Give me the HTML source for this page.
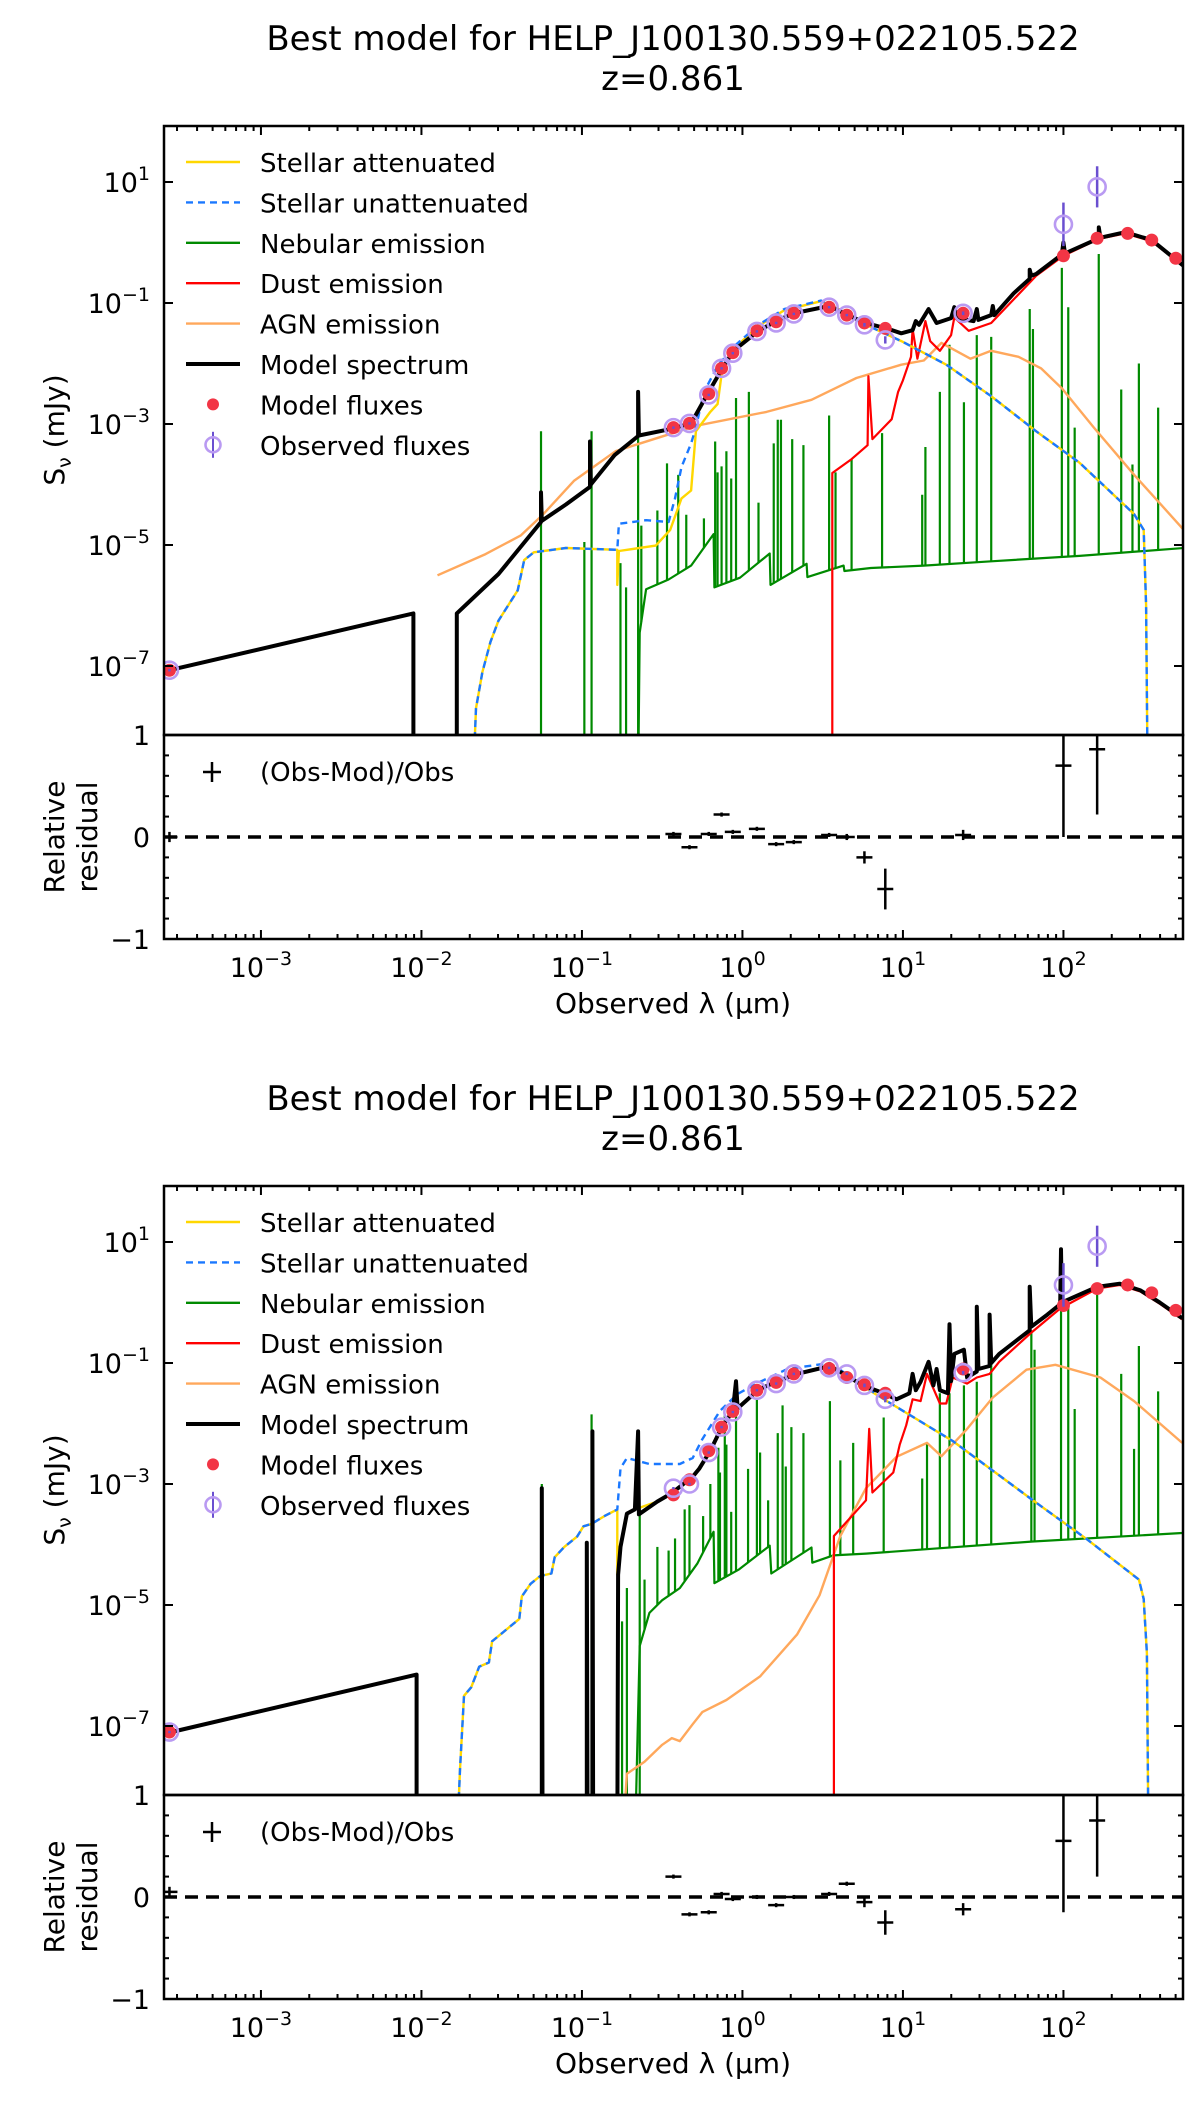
<!DOCTYPE html>
<html><head><meta charset="utf-8"><title>SED best models</title>
<style>html,body{margin:0;padding:0;background:#fff}svg{display:block}text{font-family:"DejaVu Sans","Liberation Sans",sans-serif}</style>
</head><body>
<svg id="fig" width="1200" height="2101" viewBox="0 0 1200 2101" xmlns="http://www.w3.org/2000/svg"></svg>
<script>
// ===== shared flux band wavelengths (log10 micron) =====
const fluxLogLam = [-3.57,-0.43,-0.33,-0.21,-0.13,-0.06,0.09,0.21,0.32,0.54,0.65,0.76,0.89,1.375,2.0,2.21,2.4,2.55,2.7];
const xTickExps = [-3,-2,-1,0,1,2];
const yTickExps = [1,-1,-3,-5,-7];
const residTicks = [1,0,-1];

// ===== TOP FIGURE (log10 mJy) =====
const topModel = [[-3.57,-7.07],[-2.05,-6.13],[-2.05,-9],[-1.78,-9],[-1.78,-6.13],[-1.52,-5.48],[-1.255,-4.62],[-1.255,-4.13],[-1.25,-4.6],[-1.10,-4.33],[-0.95,-4.04],[-0.95,-3.29],[-0.945,-4.0],[-0.795,-3.51],[-0.65,-3.2],[-0.65,-2.47],[-0.645,-3.19],[-0.46,-3.09],[-0.32,-2.99],[-0.28,-2.80],[-0.21,-2.47],[-0.125,-2.08],[-0.056,-1.79],[0.1,-1.46],[0.21,-1.30],[0.32,-1.17],[0.54,-1.05],[0.655,-1.20],[0.77,-1.33],[0.91,-1.43],[0.99,-1.50],[1.06,-1.45],[1.08,-1.30],[1.10,-1.36],[1.16,-1.10],[1.21,-1.33],[1.30,-1.25],[1.32,-1.07],[1.34,-1.25],[1.44,-1.30],[1.46,-1.10],[1.47,-1.28],[1.55,-1.20],[1.56,-1.05],[1.57,-1.2],[1.69,-0.84],[1.79,-0.6],[1.79,-0.45],[1.80,-0.55],[1.83,-0.52],[1.99,-0.2],[2.0,0.0],[2.01,-0.18],[2.22,0.07],[2.22,0.25],[2.23,0.08],[2.385,0.17],[2.55,0.04],[2.75,-0.39]];
const topStellarUnatt = [[-1.68,-9],[-1.66,-7.7],[-1.62,-7.1],[-1.57,-6.6],[-1.52,-6.25],[-1.40,-5.75],[-1.36,-5.25],[-1.30,-5.12],[-1.10,-5.05],[-0.78,-5.08],[-0.77,-4.65],[-0.6,-4.59],[-0.46,-4.62],[-0.42,-4.23],[-0.38,-3.71],[-0.32,-3.32],[-0.29,-3.06],[-0.24,-2.47],[-0.15,-2.02],[-0.04,-1.69],[0.1,-1.36],[0.26,-1.10],[0.49,-0.96],[0.6,-1.10],[0.77,-1.36],[0.99,-1.63],[1.27,-2.02],[1.55,-2.54],[1.83,-3.12],[2.1,-3.64],[2.44,-4.49],[2.5,-4.75],[2.515,-6],[2.525,-9]];
const topStellarAtt = [[-1.68,-9],[-1.66,-7.7],[-1.62,-7.1],[-1.57,-6.6],[-1.52,-6.25],[-1.40,-5.75],[-1.36,-5.25],[-1.30,-5.12],[-1.10,-5.05],[-0.78,-5.08],[-0.78,-5.66],[-0.77,-5.1],[-0.54,-5.01],[-0.45,-4.75],[-0.38,-4.23],[-0.32,-4.1],[-0.29,-3.12],[-0.2,-2.80],[-0.155,-2.67],[-0.125,-2.08],[-0.04,-1.72],[0.1,-1.38],[0.26,-1.12],[0.49,-0.97],[0.6,-1.10],[0.77,-1.36],[0.99,-1.63],[1.27,-2.02],[1.55,-2.54],[1.83,-3.12],[2.1,-3.64],[2.44,-4.49],[2.5,-4.75],[2.515,-6],[2.525,-9]];
const topDust = [[0.56,-9],[0.56,-3.81],[0.68,-3.58],[0.78,-3.35],[0.785,-2.21],[0.81,-3.25],[0.93,-2.92],[0.97,-2.47],[1.0,-2.28],[1.05,-1.89],[1.06,-1.43],[1.09,-1.92],[1.14,-1.30],[1.17,-1.63],[1.23,-1.79],[1.30,-1.53],[1.32,-1.24],[1.41,-1.46],[1.55,-1.33],[1.69,-0.94],[1.83,-0.55],[2.0,-0.22],[2.22,0.06],[2.385,0.15],[2.55,0.02],[2.75,-0.4]];
const topAGN = [[-1.9,-5.5],[-1.6,-5.15],[-1.38,-4.84],[-1.24,-4.49],[-1.05,-3.94],[-0.79,-3.45],[-0.29,-3.03],[0.15,-2.80],[0.43,-2.60],[0.71,-2.24],[0.99,-2.02],[1.13,-1.95],[1.24,-1.66],[1.42,-1.92],[1.55,-1.79],[1.72,-1.89],[1.86,-2.08],[1.99,-2.41],[2.19,-3.06],[2.44,-3.84],[2.75,-4.75]];
const topNebCont = [[-0.65,-9],[-0.64,-6.45],[-0.6,-5.73],[-0.46,-5.57],[-0.32,-5.34],[-0.18,-4.82],[-0.175,-5.70],[-0.015,-5.54],[0.17,-5.14],[0.175,-5.66],[0.40,-5.31],[0.405,-5.53],[0.63,-5.34],[0.635,-5.43],[0.8,-5.38],[1.13,-5.34],[1.55,-5.27],[2.1,-5.18],[2.75,-5.05]];
const topNebIsolated = [[-1.255,-3.12],[-0.985,-4.95],[-0.94,-3.12],[-0.76,-5.3],[-0.725,-5.7],[-0.65,-3.19]];
const topNebLines = [[-0.63,-4.68],[-0.53,-4.43],[-0.47,-3.65],[-0.40,-3.84],[-0.35,-4.5],[-0.24,-4.56],[-0.17,-3.29],[-0.155,-3.8],[-0.13,-3.7],[-0.10,-3.45],[-0.07,-3.9],[-0.04,-2.57],[0.04,-2.47],[0.1,-4.3],[0.195,-3.32],[0.22,-2.93],[0.24,-2.93],[0.31,-3.25],[0.38,-3.35],[0.54,-2.86],[0.58,-3.8],[0.68,-3.58],[0.87,-3.15],[1.12,-4.17],[1.14,-3.38],[1.23,-2.47],[1.29,-1.69],[1.38,-2.64],[1.46,-1.53],[1.55,-1.56],[1.79,-1.10],[1.81,-1.43],[1.99,-0.42],[2.03,-1.07],[2.07,-3.06],[2.22,-0.19],[2.36,-2.43],[2.43,-3.67],[2.47,-2.0],[2.59,-2.73]];
const topModelFlux = [-7.07,-3.06,-2.99,-2.5,-2.08,-1.82,-1.46,-1.31,-1.17,-1.07,-1.20,-1.33,-1.42,-1.17,-0.22,0.07,0.15,0.04,-0.26];
const topObsFlux = [-7.07,-3.06,-2.99,-2.52,-2.08,-1.83,-1.47,-1.33,-1.18,-1.07,-1.20,-1.36,-1.61,-1.17,0.30,0.92];
const topObsErr = [0.02,0.02,0.02,0.02,0.02,0.02,0.02,0.02,0.02,0.02,0.02,0.03,0.06,0.03,0.36,0.34];
const topResid = [0.0,0.03,-0.1,0.03,0.22,0.05,0.08,-0.07,-0.05,0.02,0.0,-0.2,-0.51,0.02,0.7,0.86];
const topResidErr = [0.05,0.02,0.02,0.02,0.02,0.02,0.02,0.02,0.02,0.02,0.03,0.06,0.2,0.05,0.7,0.64];

// ===== BOTTOM FIGURE =====
const botModel = [[-3.556,-7.1],[-2.03,-6.15],[-2.03,-9],[-1.25,-9],[-1.25,-3.07],[-1.245,-9],[-0.97,-9],[-0.97,-3.97],[-0.965,-9],[-0.935,-9],[-0.935,-2.13],[-0.93,-9],[-0.78,-9],[-0.775,-4.5],[-0.76,-4.04],[-0.72,-3.49],[-0.67,-3.42],[-0.65,-2.13],[-0.645,-3.5],[-0.53,-3.29],[-0.44,-3.15],[-0.31,-2.88],[-0.27,-2.75],[-0.2,-2.45],[-0.125,-2.04],[-0.06,-1.80],[-0.04,-1.3],[-0.03,-1.75],[0.1,-1.44],[0.21,-1.31],[0.34,-1.18],[0.545,-1.05],[0.65,-1.21],[0.75,-1.37],[0.88,-1.50],[0.96,-1.60],[1.04,-1.50],[1.06,-1.18],[1.08,-1.45],[1.11,-1.31],[1.16,-0.98],[1.19,-1.37],[1.21,-1.1],[1.23,-1.45],[1.28,-1.50],[1.29,-0.36],[1.30,-1.3],[1.32,-0.85],[1.38,-0.78],[1.40,-1.24],[1.46,-1.14],[1.46,-0.07],[1.47,-1.1],[1.54,-1.05],[1.54,-0.2],[1.55,-1.0],[1.6,-0.85],[1.79,-0.46],[1.79,0.26],[1.80,-0.4],[1.9,-0.2],[1.98,-0.03],[1.985,0.88],[1.99,0.0],[2.21,0.26],[2.35,0.31],[2.48,0.20],[2.6,0.0],[2.74,-0.26]];
const botStellarUnatt = [[-1.78,-9],[-1.76,-7.72],[-1.735,-6.5],[-1.69,-6.36],[-1.64,-6.02],[-1.58,-5.95],[-1.56,-5.6],[-1.5,-5.47],[-1.39,-5.23],[-1.375,-4.86],[-1.32,-4.65],[-1.26,-4.52],[-1.19,-4.48],[-1.17,-4.21],[-1.11,-4.04],[-1.03,-3.87],[-0.99,-3.70],[-0.94,-3.66],[-0.86,-3.53],[-0.78,-3.42],[-0.76,-2.74],[-0.72,-2.57],[-0.58,-2.67],[-0.39,-2.67],[-0.31,-2.57],[-0.25,-2.26],[-0.14,-1.79],[-0.03,-1.51],[0.11,-1.31],[0.28,-1.10],[0.545,-1.0],[0.9,-1.63],[1.31,-2.29],[1.81,-3.27],[2.15,-3.92],[2.47,-4.58],[2.5,-4.9],[2.52,-5.8],[2.53,-9]];
const botStellarAtt = [[-1.78,-9],[-1.76,-7.72],[-1.735,-6.5],[-1.69,-6.36],[-1.64,-6.02],[-1.58,-5.95],[-1.56,-5.6],[-1.5,-5.47],[-1.39,-5.23],[-1.375,-4.86],[-1.32,-4.65],[-1.26,-4.52],[-1.19,-4.48],[-1.17,-4.21],[-1.11,-4.04],[-1.03,-3.87],[-0.99,-3.70],[-0.94,-3.66],[-0.86,-3.53],[-0.78,-3.42],[-0.78,-4.5],[-0.76,-4.04],[-0.72,-3.49],[-0.67,-3.42],[-0.53,-3.29],[-0.44,-3.15],[-0.31,-2.88],[-0.27,-2.75],[-0.2,-2.45],[-0.125,-2.04],[-0.06,-1.80],[0.1,-1.44],[0.21,-1.31],[0.34,-1.18],[0.545,-1.05],[0.9,-1.63],[1.31,-2.29],[1.81,-3.27],[2.15,-3.92],[2.47,-4.58],[2.5,-4.9],[2.52,-5.8],[2.53,-9]];
const botDust = [[0.57,-9],[0.57,-3.86],[0.77,-3.27],[0.79,-2.09],[0.81,-3.14],[0.94,-2.81],[0.98,-2.35],[1.02,-2.03],[1.06,-1.6],[1.11,-1.63],[1.15,-1.18],[1.23,-1.67],[1.27,-1.67],[1.31,-1.24],[1.40,-1.34],[1.46,-1.24],[1.54,-1.18],[1.6,-0.98],[1.79,-0.52],[1.98,-0.10],[2.21,0.23],[2.35,0.29],[2.48,0.18],[2.6,-0.02],[2.74,-0.28]];
const botAGN = [[-0.75,-9],[-0.72,-7.79],[-0.61,-7.59],[-0.5,-7.31],[-0.44,-7.2],[-0.39,-7.25],[-0.31,-6.97],[-0.25,-6.77],[-0.1,-6.57],[0.11,-6.18],[0.34,-5.49],[0.48,-4.84],[0.61,-3.86],[0.77,-3.07],[0.96,-2.55],[1.15,-2.32],[1.24,-2.54],[1.40,-2.09],[1.56,-1.57],[1.77,-1.11],[1.95,-1.03],[2.23,-1.24],[2.44,-1.63],[2.74,-2.32]];
const botNebCont = [[-0.67,-9],[-0.64,-5.68],[-0.58,-5.13],[-0.5,-4.92],[-0.39,-4.72],[-0.28,-4.31],[-0.18,-3.79],[-0.175,-4.64],[-0.02,-4.41],[0.17,-4.02],[0.18,-4.48],[0.43,-4.05],[0.435,-4.3],[0.565,-4.18],[0.77,-4.15],[1.19,-4.07],[1.81,-3.95],[2.74,-3.81]];
const botNebIsolated = [[-1.25,-3.0],[-0.94,-1.85],[-0.75,-5.27],[-0.72,-4.72],[-0.64,-3.42]];
const botNebLines = [[-0.61,-4.58],[-0.53,-4.04],[-0.46,-4.1],[-0.42,-3.9],[-0.36,-3.42],[-0.33,-3.35],[-0.245,-3.53],[-0.2,-3.0],[-0.15,-2.40],[-0.14,-2.81],[-0.11,-1.85],[-0.10,-2.35],[-0.07,-3.46],[-0.04,-1.77],[0.035,-2.75],[0.09,-1.58],[0.11,-2.48],[0.16,-3.27],[0.22,-2.16],[0.25,-1.70],[0.27,-2.71],[0.305,-2.06],[0.38,-2.16],[0.545,-1.63],[0.61,-2.61],[0.69,-2.32],[0.88,-1.90],[1.12,-2.91],[1.15,-2.32],[1.23,-1.50],[1.29,-1.50],[1.38,-1.37],[1.46,-1.31],[1.55,-0.98],[1.80,-0.46],[1.82,-0.78],[1.985,-0.07],[2.03,-0.07],[2.07,-1.76],[2.21,0.13],[2.36,-1.18],[2.44,-2.42],[2.47,-0.72],[2.59,-1.47]];
const botModelFlux = [-7.1,-3.18,-2.93,-2.45,-2.06,-1.80,-1.45,-1.32,-1.18,-1.09,-1.24,-1.36,-1.50,-1.10,-0.05,0.23,0.29,0.16,-0.13];
const botObsFlux = [-7.1,-3.07,-3.0,-2.48,-2.06,-1.81,-1.45,-1.34,-1.18,-1.08,-1.18,-1.37,-1.60,-1.16,0.29,0.93];
const botObsErr = [0.02,0.02,0.02,0.02,0.02,0.02,0.02,0.02,0.02,0.02,0.02,0.03,0.05,0.03,0.36,0.34];
const botResid = [0.05,0.2,-0.17,-0.15,0.03,-0.02,0.0,-0.08,0.0,0.03,0.13,-0.05,-0.25,-0.12,0.55,0.75];
const botResidErr = [0.05,0.02,0.02,0.02,0.02,0.02,0.02,0.02,0.02,0.02,0.02,0.05,0.12,0.06,0.7,0.55];

const NS = "http://www.w3.org/2000/svg";
const svg = document.getElementById('fig');
const L = 164, R = 1183;
function xs(lg){ return L + (lg + 3.604) * 160.5; }
function mk(tag, attrs, parent){ const e = document.createElementNS(NS, tag); for (const k in attrs) e.setAttribute(k, attrs[k]); (parent||svg).appendChild(e); return e; }
function txt(parent, x, y, s, size, anchor){ const t = mk('text', {x:x, y:y, 'font-size':size, 'text-anchor':anchor||'start', fill:'#000'}, parent); t.textContent = s; return t; }
function powLabel(parent, x, y, e){
  const t = mk('text', {x:x, y:y, 'font-size':27, 'text-anchor':'middle', fill:'#000'}, parent);
  const a = mk('tspan', {}, t); a.textContent = '10';
  const b = mk('tspan', {dy:-12, 'font-size':19}, t); b.textContent = (e < 0 ? '\u2212' + (-e) : '' + e);
  return t;
}

function drawFigure(off, d, idx){
  const top = 126 + off, mb = 735 + off, rb = 939 + off;
  const ys = lf => top + 56 + (1 - lf) * 60.5;
  const yr = r => mb + (1 - r) * 102;
  const g = mk('g', {});
  
  
  const t1 = txt(g, 673, 50 + off, 'Best model for HELP_J100130.559+022105.522', 34, 'middle');
   
  const t2 = txt(g, 673, 90 + off, 'z=0.861', 34, 'middle');
   
  const cid = 'clip' + idx;
  const cp = mk('clipPath', {id: cid}, g); mk('rect', {x:L, y:top, width:R-L, height:mb-top}, cp);
  const main = mk('g', {'clip-path': 'url(#' + cid + ')'}, g);
  
  
  const path = (pts, color, w, extra, name) => {
    const p = mk('path', Object.assign({d: pts.map((q,i)=>(i?'L':'M')+xs(q[0]).toFixed(1)+' '+ys(q[1]).toFixed(1)).join(''), fill:'none', stroke:color, 'stroke-width':w, 'stroke-linejoin':'round'}, extra||{}), main);
    
    
    return p;
  };
  const interp = (arr, lx) => { for (let i=1;i<arr.length;i++){ if (lx <= arr[i][0]) { const a=arr[i-1], b=arr[i]; const t=(lx-a[0])/((b[0]-a[0])||1); return a[1]+t*(b[1]-a[1]); } } return arr[arr.length-1][1]; };
  path(d.nebCont, '#008a00', 2.2, {}, 'nebular-continuum');
  d.nebIso.forEach(q => { const l = mk('line', {x1:xs(q[0]), x2:xs(q[0]), y1:mb+5, y2:ys(q[1]), stroke:'#008a00', 'stroke-width':2.2}, main);   });
  d.nebLines.forEach(q => { const l = mk('line', {x1:xs(q[0]), x2:xs(q[0]), y1:ys(interp(d.nebCont,q[0])), y2:ys(q[1]), stroke:'#008a00', 'stroke-width':2.2}, main);   });
  path(d.agn, '#ffa85c', 2.4, {}, 'agn-emission-line');
  path(d.dust, '#ff0000', 2.2, {}, 'dust-emission-line');
  path(d.att, '#ffd700', 2.4, {}, 'stellar-attenuated-line');
  path(d.unatt, '#1a78ff', 2.4, {'stroke-dasharray':'7 5'}, 'stellar-unattenuated-line');
  path(d.model, '#000', 4, {}, 'model-spectrum-line');
  d.modelFlux.forEach((v,i) => { const c = mk('circle', {cx:xs(fluxLogLam[i]), cy:ys(v), r:6.5, fill:'#f23545'}, main);   });
  d.obsFlux.forEach((v,i) => {
    const x = xs(fluxLogLam[i]);
    const l = mk('line', {x1:x, x2:x, y1:ys(v+d.obsErr[i]), y2:ys(v-d.obsErr[i]), stroke:'#6a4fd0', 'stroke-width':2.5}, main);
     
    const c = mk('circle', {cx:x, cy:ys(v), r:8.5, fill:'none', stroke:'#b99af2', 'stroke-width':2.6}, main);
     
  });
  const f1 = mk('rect', {x:L, y:top, width:R-L, height:mb-top, fill:'none', stroke:'#000', 'stroke-width':2.5}, g);
   
  const f2 = mk('rect', {x:L, y:mb, width:R-L, height:rb-mb, fill:'none', stroke:'#000', 'stroke-width':2.5}, g);
   
  const tk = mk('g', {stroke:'#000', 'stroke-width':2}, g);
   
  for (let e=-4;e<=2;e++){ for (let m=1;m<10;m++){ const lg = e + Math.log10(m); if (lg < -3.604 || lg > 2.745) continue; const x = xs(lg); const len = m===1?9:5;
    mk('line', {x1:x,x2:x,y1:top,y2:top+len}, tk); mk('line', {x1:x,x2:x,y1:rb,y2:rb-len}, tk); } }
  xTickExps.forEach(e => { const t = powLabel(g, xs(e), 977+off, e);   });
  yTickExps.forEach(e => { const y = ys(e); mk('line', {x1:L,x2:L+9,y1:y,y2:y}, tk); mk('line', {x1:R,x2:R-9,y1:y,y2:y}, tk);
    const t = mk('text', {x:150, y:y+10, 'font-size':27, 'text-anchor':'end', fill:'#000'}, g);
    const a = mk('tspan', {}, t); a.textContent='10'; const b = mk('tspan', {dy:-12,'font-size':19}, t); b.textContent = (e<0?'\u2212'+(-e):''+e);
      });
  for (let k=-5;k<=5;k++){ const r = k/5; const y = yr(r); const len = (k%5===0)?9:5; mk('line', {x1:L,x2:L+len,y1:y,y2:y}, tk); mk('line', {x1:R,x2:R-len,y1:y,y2:y}, tk); }
  residTicks.forEach(r => { const t = txt(g, 150, yr(r)+10, r<0?'\u2212'+(-r):''+r, 27, 'end');   });
  const z = mk('line', {x1:L, x2:R, y1:yr(0), y2:yr(0), stroke:'#000', 'stroke-width':3.5, 'stroke-dasharray':'13 8'}, g);
   
  const rg = mk('g', {stroke:'#000', 'stroke-width':2.5}, g);
   
  const rcp = 'rclip'+idx; const rc = mk('clipPath', {id:rcp}, g); mk('rect', {x:L, y:mb, width:R-L, height:rb-mb}, rc);
  rg.setAttribute('clip-path','url(#'+rcp+')');
  d.resid.forEach((v,i) => { const x = xs(fluxLogLam[i]); const y = yr(v);
    const a = mk('line', {x1:x-8,x2:x+8,y1:y,y2:y}, rg);  
    const b = mk('line', {x1:x,x2:x,y1:yr(v+d.residErr[i]),y2:yr(v-d.residErr[i])}, rg);   });
  const lgR = mk('g', {}, g);  
  mk('line', {x1:203,x2:221,y1:772+off,y2:772+off,stroke:'#000','stroke-width':2.5}, lgR);
  mk('line', {x1:212,x2:212,y1:762+off,y2:782+off,stroke:'#000','stroke-width':2.5}, lgR);
  txt(lgR, 260, 781+off, '(Obs-Mod)/Obs', 26);
  const lg = mk('g', {}, g);  
  const items = [['Stellar attenuated','#ffd700',2.4,null],['Stellar unattenuated','#1a78ff',2.4,'7 5'],['Nebular emission','#008a00',2.4,null],['Dust emission','#ff0000',2.4,null],['AGN emission','#ffa85c',2.4,null],['Model spectrum','#000',4,null],['Model fluxes','dot'],['Observed fluxes','obs']];
  items.forEach((it,i) => { const y = 162 + off + i*40.4; const e = mk('g', {}, lg);  
    if (it[1]==='dot') mk('circle', {cx:213, cy:y, r:6, fill:'#f23545'}, e);
    else if (it[1]==='obs') { mk('line', {x1:213,x2:213,y1:y-13,y2:y+13,stroke:'#6a4fd0','stroke-width':2}, e); mk('circle', {cx:213,cy:y,r:7.5,fill:'none',stroke:'#b99af2','stroke-width':2.6}, e); }
    else { const a = {x1:186,x2:240,y1:y,y2:y,stroke:it[1],'stroke-width':it[2]}; if (it[3]) a['stroke-dasharray']=it[3]; mk('line', a, e); }
    txt(e, 260, y+10, it[0], 26); });
  const yl = mk('text', {x:0, y:0, 'font-size':28, 'text-anchor':'middle', transform:'translate(64,'+(430+off)+') rotate(-90)', fill:'#000'}, g);
  const s1 = mk('tspan', {}, yl); s1.textContent='S'; const s2 = mk('tspan', {dy:7,'font-size':19}, yl); s2.textContent='\u03bd'; const s3 = mk('tspan', {dy:-7}, yl); s3.textContent=' (mJy)';
   
  const r1 = mk('text', {x:0,y:0,'font-size':28,'text-anchor':'middle',transform:'translate(64,'+(837+off)+') rotate(-90)',fill:'#000'}, g); r1.textContent='Relative';
   
  const r2 = mk('text', {x:0,y:0,'font-size':28,'text-anchor':'middle',transform:'translate(97,'+(837+off)+') rotate(-90)',fill:'#000'}, g); r2.textContent='residual';
   
  const xl = mk('text', {x:673, y:1013+off, 'font-size':28, 'text-anchor':'middle', fill:'#000'}, g);
  xl.textContent = 'Observed \u03bb (\u03bcm)';
   
}

drawFigure(0, {model:topModel, unatt:topStellarUnatt, att:topStellarAtt, dust:topDust, agn:topAGN, nebCont:topNebCont, nebIso:topNebIsolated, nebLines:topNebLines, modelFlux:topModelFlux, obsFlux:topObsFlux, obsErr:topObsErr, resid:topResid, residErr:topResidErr}, 1);
drawFigure(1060, {model:botModel, unatt:botStellarUnatt, att:botStellarAtt, dust:botDust, agn:botAGN, nebCont:botNebCont, nebIso:botNebIsolated, nebLines:botNebLines, modelFlux:botModelFlux, obsFlux:botObsFlux, obsErr:botObsErr, resid:botResid, residErr:botResidErr}, 2);
</script>
</body></html>
